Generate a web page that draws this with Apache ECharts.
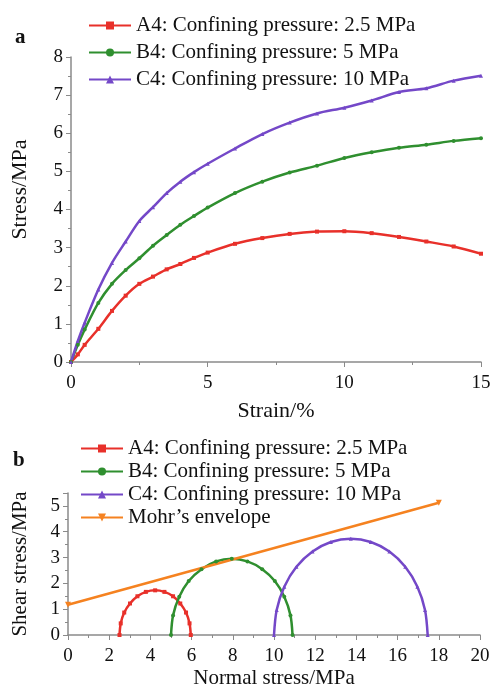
<!DOCTYPE html>
<html>
<head>
<meta charset="utf-8">
<script src="https://cdn.jsdelivr.net/npm/echarts@6/dist/echarts.min.js"></script>
<style>
  html, body { margin: 0; padding: 0; background: #fff; }
  #main { width: 497px; height: 690px; }
</style>
</head>
<body>
<div id="main"></div>
<script>
// panel a: stress-strain curves
var strain = [0, 0.25, 0.5, 1, 1.5, 2, 2.5, 3, 3.5, 4, 4.5, 5, 6, 7, 8, 9, 10, 11, 12, 13, 14, 15];
var stressA4 = [0, 0.2, 0.45, 0.87, 1.34, 1.74, 2.05, 2.24, 2.43, 2.57, 2.73, 2.87, 3.1, 3.25, 3.36, 3.42, 3.43, 3.38, 3.28, 3.16, 3.03, 2.84];
var stressB4 = [0, 0.45, 0.85, 1.55, 2.05, 2.41, 2.72, 3.05, 3.33, 3.6, 3.83, 4.05, 4.43, 4.73, 4.97, 5.15, 5.35, 5.5, 5.62, 5.7, 5.8, 5.87];
var stressC4 = [0, 0.55, 1.03, 1.9, 2.6, 3.16, 3.7, 4.06, 4.43, 4.73, 4.98, 5.2, 5.6, 5.98, 6.28, 6.52, 6.67, 6.86, 7.08, 7.18, 7.38, 7.51];

// panel b: Mohr circles, [normal stress, shear stress]
var mohrA4 = [[2.5, 0], [2.56, 0.45], [2.73, 0.87], [3.01, 1.22], [3.37, 1.5], [3.78, 1.67], [4.23, 1.73], [4.68, 1.67], [5.1, 1.5], [5.45, 1.22], [5.73, 0.87], [5.9, 0.45], [5.96, 0]];
var mohrB4 = [[5.0, 0], [5.1, 0.76], [5.4, 1.48], [5.86, 2.09], [6.48, 2.55], [7.19, 2.85], [7.95, 2.95], [8.71, 2.85], [9.43, 2.55], [10.04, 2.09], [10.5, 1.48], [10.8, 0.76], [10.9, 0]];
var mohrC4 = [[10.0, 0], [10.13, 0.97], [10.5, 1.87], [11.09, 2.64], [11.87, 3.23], [12.76, 3.6], [13.73, 3.73], [14.7, 3.6], [15.6, 3.23], [16.37, 2.64], [16.96, 1.87], [17.33, 0.97], [17.46, 0]];
var envelope = [[0, 1.17], [18.0, 5.12]];

var names = ['A4: Confining pressure: 2.5 MPa', 'B4: Confining pressure: 5 MPa', 'C4: Confining pressure: 10 MPa', 'Mohr\u2019s envelope'];
var colors = ['#e8302a', '#2f8f2f', '#7448c8', '#f58220'];

var chartDom = document.getElementById('main');
var myChart = echarts.init(chartDom);
var font = 'Liberation Serif';

function pairs(xs, ys) {
  return xs.map(function (x, i) { return [x, ys[i]]; });
}

var axisCommon = {
  axisLine: { lineStyle: { color: '#8a8a8a', width: 1.5 } },
  axisTick: { length: 5, lineStyle: { color: '#8a8a8a' } },
  minorTick: { show: true, splitNumber: 2, length: 3, lineStyle: { color: '#8a8a8a' } },
  axisLabel: { color: '#111', fontFamily: font, fontSize: 19 },
  splitLine: { show: false }
};

function curve(name, data, color, symbol, xi) {
  return {
    name: name,
    type: 'line',
    xAxisIndex: xi,
    yAxisIndex: xi,
    data: data,
    smooth: 0.3,
    symbol: symbol,
    symbolSize: 4,
    color: color,
    lineStyle: { width: 2.5, color: color },
    itemStyle: { color: color },
    animation: false
  };
}

var option = {
  title: [
    { text: 'a', left: 10, top: 22, textStyle: { fontFamily: font, fontSize: 21, fontWeight: 'bold', color: '#111' } },
    { text: 'b', left: 8, top: 445, textStyle: { fontFamily: font, fontSize: 21, fontWeight: 'bold', color: '#111' } }
  ],
  legend: [
    {
      data: names.slice(0, 3),
      orient: 'vertical',
      left: 83,
      top: 10,
      itemWidth: 42,
      itemHeight: 10,
      itemGap: 6,
      textStyle: { fontFamily: font, fontSize: 21, color: '#111' }
    },
    {
      data: names,
      orient: 'vertical',
      left: 75,
      top: 433,
      itemWidth: 42,
      itemHeight: 10,
      itemGap: 2,
      textStyle: { fontFamily: font, fontSize: 21, color: '#111' }
    }
  ],
  grid: [
    { left: 71, right: 16, top: 57, bottom: 328 },
    { left: 68, right: 17, top: 493, bottom: 52 }
  ],
  xAxis: [
    Object.assign({}, axisCommon, {
      gridIndex: 0, type: 'value', min: 0, max: 15, interval: 5,
      axisLabel: { color: '#111', fontFamily: font, fontSize: 19, margin: 12 },
      name: 'Strain/%', nameLocation: 'middle', nameGap: 38,
      nameTextStyle: { color: '#111', fontFamily: font, fontSize: 22 }
    }),
    Object.assign({}, axisCommon, {
      gridIndex: 1, type: 'value', min: 0, max: 20, interval: 2,
      axisLabel: { color: '#111', fontFamily: font, fontSize: 19, margin: 12 },
      name: 'Normal stress/MPa', nameLocation: 'middle', nameGap: 33,
      nameTextStyle: { color: '#111', fontFamily: font, fontSize: 21 }
    })
  ],
  yAxis: [
    Object.assign({}, axisCommon, {
      gridIndex: 0, type: 'value', min: 0, max: 8, interval: 1,
      name: 'Stress/MPa', nameLocation: 'middle', nameGap: 40,
      nameTextStyle: { color: '#111', fontFamily: font, fontSize: 22, padding: [0, 0, 0, 40] }
    }),
    Object.assign({}, axisCommon, {
      gridIndex: 1, type: 'value', min: 0, max: 5.5, interval: 1,
      name: 'Shear stress/MPa', nameLocation: 'middle', nameGap: 37,
      nameTextStyle: { color: '#111', fontFamily: font, fontSize: 21 },
      axisLabel: { color: '#111', fontFamily: font, fontSize: 19, showMaxLabel: false }
    })
  ],
  series: [
    curve(names[0], pairs(strain, stressA4), colors[0], 'rect', 0),
    curve(names[1], pairs(strain, stressB4), colors[1], 'circle', 0),
    curve(names[2], pairs(strain, stressC4), colors[2], 'triangle', 0),
    curve(names[0], mohrA4, colors[0], 'rect', 1),
    curve(names[1], mohrB4, colors[1], 'circle', 1),
    curve(names[2], mohrC4, colors[2], 'triangle', 1),
    Object.assign(curve(names[3], envelope, colors[3], 'triangle', 1), { smooth: false, symbolRotate: 180, symbolSize: 6 })
  ]
};

myChart.setOption(option);
</script>
</body>
</html>
